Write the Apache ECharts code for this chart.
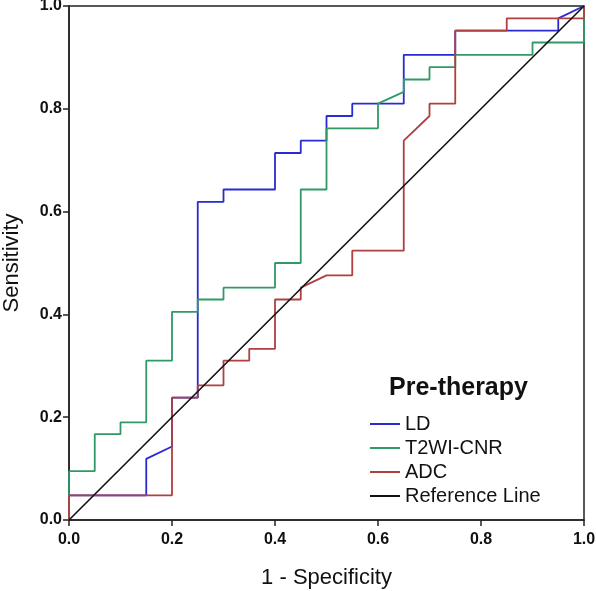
<!DOCTYPE html>
<html>
<head>
<meta charset="utf-8">
<script src="https://cdn.jsdelivr.net/npm/echarts@6/dist/echarts.min.js"></script>
<style>html,body{margin:0;padding:0;background:#fff;}#c{width:596px;height:591px;}</style>
</head>
<body>
<div id="c"></div>
<script>
var axisTicks = [0, 0.2, 0.4, 0.6, 0.8, 1.0];
var seriesNames = ['LD', 'T2WI-CNR', 'ADC', 'Reference Line'];

var ldX = [0,0,0.15,0.15,0.2,0.2,0.25,0.25,0.3,0.3,0.4,0.4,0.45,0.45,0.5,0.5,0.55,0.55,0.65,0.65,0.75,0.75,0.95,0.95,1];
var ldY = [0,0.048,0.048,0.119,0.143,0.238,0.238,0.619,0.619,0.643,0.643,0.714,0.714,0.738,0.738,0.786,0.786,0.81,0.81,0.905,0.905,0.952,0.952,0.976,1];

var t2X = [0,0,0.05,0.05,0.1,0.1,0.15,0.15,0.2,0.2,0.25,0.25,0.3,0.3,0.4,0.4,0.45,0.45,0.5,0.5,0.6,0.6,0.65,0.65,0.7,0.7,0.75,0.75,0.9,0.9,1,1];
var t2Y = [0,0.095,0.095,0.167,0.167,0.19,0.19,0.31,0.31,0.405,0.405,0.429,0.429,0.452,0.452,0.5,0.5,0.643,0.643,0.762,0.762,0.81,0.833,0.857,0.857,0.881,0.881,0.905,0.905,0.929,0.929,1];

var adcX = [0,0,0.2,0.2,0.25,0.25,0.3,0.3,0.35,0.35,0.4,0.4,0.45,0.45,0.5,0.55,0.55,0.65,0.65,0.7,0.7,0.75,0.75,0.85,0.85,1,1];
var adcY = [0,0.048,0.048,0.238,0.238,0.262,0.262,0.31,0.31,0.333,0.333,0.429,0.429,0.452,0.476,0.476,0.524,0.524,0.738,0.786,0.81,0.81,0.952,0.952,0.976,0.976,1];

var refX = [0, 1];
var refY = [0, 1];

function pairs(xs, ys) { return xs.map(function (x, i) { return [x, ys[i]]; }); }

var FONT = 'Liberation Sans';
var colors = ['#2a2ad2', '#2f9a66', '#b0403f', '#111111'];

var chart = echarts.init(document.getElementById('c'), null, { renderer: 'canvas' });

function axis(name, isY) {
  return {
    type: 'value', min: 0, max: 1, interval: 0.2,
    name: name, nameLocation: 'middle',
    nameGap: isY ? 46 : 47,
    nameTextStyle: { fontFamily: FONT, fontSize: 22, color: '#111' },
    axisLine: { show: true, lineStyle: { color: '#222', width: 1.5 } },
    axisTick: { show: true, length: 6, lineStyle: { color: '#222', width: 1.5 } },
    axisLabel: {
      fontFamily: FONT, fontSize: 16, fontWeight: 'bold', color: '#111',
      margin: isY ? 7 : 12,
      formatter: function (v) { return v.toFixed(1); }
    },
    splitLine: { show: false }
  };
}

var data = [pairs(ldX, ldY), pairs(t2X, t2Y), pairs(adcX, adcY), pairs(refX, refY)];

chart.setOption({
  animation: false,
  backgroundColor: '#fff',
  textStyle: { fontFamily: FONT },
  title: {
    text: 'Pre-therapy', left: 384, top: 371,
    textStyle: { fontFamily: FONT, fontSize: 25, fontWeight: 'bold', color: '#111' }
  },
  legend: {
    orient: 'vertical', left: 365, top: 409,
    itemWidth: 30, itemHeight: 2, itemGap: 4,
    icon: 'rect',
    data: seriesNames,
    textStyle: { fontFamily: FONT, fontSize: 20, color: '#111' }
  },
  grid: { left: 69, right: 12, top: 6, bottom: 71, containLabel: false, outerBoundsMode: 'none',
          show: true, borderColor: '#222', borderWidth: 1.5 },
  xAxis: axis('1 - Specificity', false),
  yAxis: axis('Sensitivity', true),
  series: seriesNames.map(function (n, i) {
    return {
      name: n, type: 'line', data: data[i], showSymbol: false, symbol: 'none',
      color: colors[i],
      lineStyle: { color: colors[i], width: i === 3 ? 1.6 : 1.8 },
      z: 2 + i
    };
  })
});
</script>
</body>
</html>
